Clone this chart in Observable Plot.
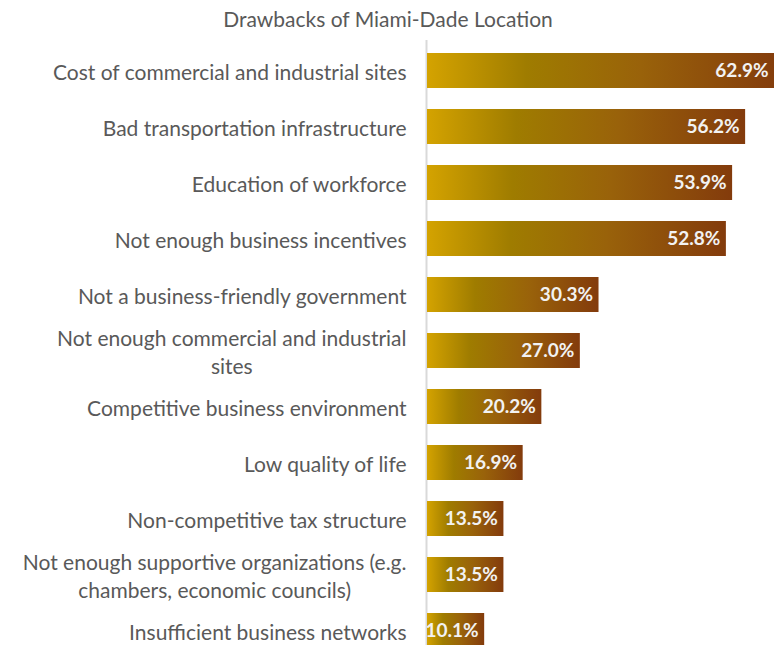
<!DOCTYPE html>
<html>
<head>
<meta charset="utf-8">
<script src="https://cdn.jsdelivr.net/npm/d3@7"></script>
<script src="https://cdn.jsdelivr.net/npm/@observablehq/plot@0.6"></script>
<style>
  body { margin: 0; background: #fff; overflow: hidden; }
  #title { width: 776px; height: 40px; box-sizing: border-box; padding-top: 9px; line-height: 20px;
           text-align: center; font-family: Lato, sans-serif; font-size: 21px; color: #595959; white-space: nowrap; }
  #chart svg { display: block; }
</style>
</head>
<body>
<div id="title">Drawbacks of Miami-Dade Location</div>
<div id="chart"></div>
<script>
const categories = [
  "Cost of commercial and industrial sites",
  "Bad transportation infrastructure",
  "Education of workforce",
  "Not enough business incentives",
  "Not a business-friendly government",
  "Not enough commercial and industrial\nsites",
  "Competitive business environment",
  "Low quality of life",
  "Non-competitive tax structure",
  "Not enough supportive organizations (e.g.\nchambers, economic councils)",
  "Insufficient business networks"
];
const values = [62.9, 56.2, 53.9, 52.8, 30.3, 27.0, 20.2, 16.9, 13.5, 13.5, 10.1];

const data = categories.map((c, i) => ({category: c, value: values[i]}));
const xMax = 61.3;

const gradientDefs = () => {
  const defs = d3.create("svg:defs");
  const g = defs.append("linearGradient").attr("id", "barGrad").attr("x1", "0").attr("x2", "1").attr("y1", "0").attr("y2", "0");
  g.append("stop").attr("offset", "0").attr("stop-color", "#d4a300");
  g.append("stop").attr("offset", "0.28").attr("stop-color", "#9f7c00");
  g.append("stop").attr("offset", "0.6").attr("stop-color", "#99620a");
  g.append("stop").attr("offset", "1").attr("stop-color", "#833b0c");
  return defs.node();
};

const chart = Plot.plot({
  width: 774,
  height: 605,
  marginLeft: 427,
  marginRight: 0,
  marginTop: 0,
  marginBottom: 0,
  style: {fontFamily: "Lato, sans-serif", background: "#fff"},
  x: {domain: [0, xMax], axis: null},
  y: {domain: categories, range: [0.3, 620.7], paddingInner: 0.38, paddingOuter: 0.19, axis: null},
  marks: [
    gradientDefs,
    Plot.ruleX([0], {stroke: "#d9d9d9", strokeWidth: 2, dx: -1}),
    Plot.barX(data, {x: "value", y: "category", fill: "url(#barGrad)", clip: true}),
    Plot.text(data, {
      x: d => Math.min(d.value, xMax), y: "category",
      text: d => d3.format(".1f")(d.value) + "%",
      textAnchor: "end", dx: -6, fill: "#f2f2f2", fontWeight: "bold", fontSize: 19
    }),
    Plot.text(data, {
      y: "category", text: "category", frameAnchor: "left", textAnchor: "end",
      dx: -21, lineHeight: 1.33, fontSize: 21, fill: "#595959"
    })
  ]
});

document.getElementById("chart").append(chart);
chart.querySelectorAll("text").forEach(t => {
  const ts = t.querySelectorAll("tspan");
  if (ts.length > 1) {
    const w = Math.max(...Array.from(ts, s => s.getComputedTextLength()));
    ts.forEach(s => { s.setAttribute("x", -w / 2); s.setAttribute("text-anchor", "middle"); });
  }
});
</script>
</body>
</html>
